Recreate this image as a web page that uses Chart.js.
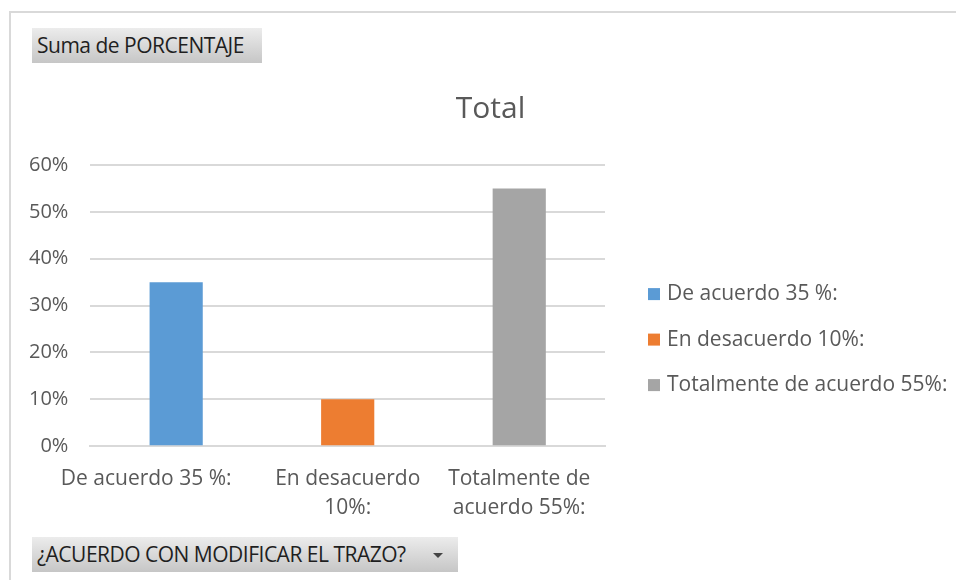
<!DOCTYPE html>
<html lang="es">
<head>
    <meta charset="UTF-8">
    <title>Total</title>
    <style>
        body, html {
            margin: 0;
            padding: 0;
            width: 956px;
            height: 580px;
            background: #ffffff;
            overflow: hidden;
            font-family: "Open Sans", sans-serif;
        }

        .frame {
            position: absolute;
            left: 9px;
            top: 11px;
            width: 960px;
            height: 600px;
            border-top: 2px solid #d9d9d9;
            border-left: 2px solid #d9d9d9;
        }

        .field-btn {
            position: absolute;
            left: 32px;
            height: 35px;
            line-height: 35px;
            padding-left: 5px;
            box-sizing: border-box;
            background: linear-gradient(#ececec, #c6c6c6);
            color: #1f1f1f;
            font-family: "Open Sans", sans-serif;
            font-size: 21px;
            letter-spacing: -0.5px;
            white-space: nowrap;
        }

        #top-btn { top: 28px; width: 230px; }
        #bottom-btn { top: 537px; width: 426px; }

        .arrow {
            position: absolute;
            left: 401px;
            top: 16px;
            width: 0;
            height: 0;
            border-left: 5px solid transparent;
            border-right: 5px solid transparent;
            border-top: 5px solid #444;
        }

        .chart-box {
            position: absolute;
            left: -9px;
            top: 70px;
            width: 965px;
            height: 463px;
        }
    </style>
</head>
<body>
    <div class="frame"></div>
    <div class="field-btn" id="top-btn">Suma de PORCENTAJE</div>
    <div class="field-btn" id="bottom-btn">¿ACUERDO CON MODIFICAR EL TRAZO?<span class="arrow"></span></div>

    <div class="chart-box">
        <canvas id="total-chart"></canvas>
    </div>

    <script src="https://cdn.jsdelivr.net/npm/chart.js"></script>
    <script>
        // data
        const categories = ['De acuerdo 35 %:', 'En desacuerdo 10%:', 'Totalmente de acuerdo 55%:'];
        const axisLabels = ['De acuerdo 35 %:', ['En desacuerdo', '10%:'], ['Totalmente de', 'acuerdo 55%:']];
        const percentages = [0.35, 0.10, 0.55];
        const barColors = ['#5b9bd5', '#ed7d31', '#a5a5a5'];
        const yTicks = [0, 0.1, 0.2, 0.3, 0.4, 0.5, 0.6];

        const textColor = '#595959';
        const fontFamily = '"Open Sans", sans-serif';

        // legend drawn to the right of the plot, like the Excel one
        const sideLegend = {
            id: 'sideLegend',
            afterLayout: function (chart) {
                // centre the title over the whole chart, not just the plot
                if (chart.titleBlock) {
                    chart.titleBlock.left = 34;
                    chart.titleBlock.right = chart.width;
                    chart.titleBlock.width = chart.width - 34;
                }
            },
            afterDraw: function (chart) {
                const c = chart.ctx;
                const area = chart.chartArea;
                const x = area.right + 43;
                const midY = (area.top + area.bottom) / 2 + 34;
                const step = 45.5;
                c.save();
                c.font = '21px ' + fontFamily;
                c.textBaseline = 'middle';
                c.textAlign = 'left';
                categories.forEach(function (name, i) {
                    const y = midY + (i - 1) * step;
                    c.fillStyle = barColors[i];
                    c.fillRect(x, y - 6, 12, 12);
                    c.fillStyle = textColor;
                    c.fillText(name, x + 19, y);
                });
                c.restore();
            }
        };

        const ctx = document.getElementById('total-chart').getContext('2d');
        new Chart(ctx, {
            type: 'bar',
            data: {
                labels: axisLabels,
                datasets: [{
                    label: 'Total',
                    data: percentages,
                    backgroundColor: barColors,
                    barPercentage: 0.31,
                    categoryPercentage: 1
                }]
            },
            options: {
                responsive: true,
                maintainAspectRatio: false,
                animation: false,
                layout: {
                    padding: { left: 16, right: 351, top: 0, bottom: 0 }
                },
                plugins: {
                    title: {
                        display: true,
                        text: 'Total',
                        color: textColor,
                        font: { family: fontFamily, size: 30, weight: 'normal' },
                        padding: { top: 21, bottom: 38 }
                    },
                    legend: { display: false },
                    tooltip: { enabled: false }
                },
                scales: {
                    x: {
                        grid: { display: false },
                        border: { display: true, color: '#d9d9d9', width: 2 },
                        ticks: {
                            color: textColor,
                            font: { family: fontFamily, size: 21, lineHeight: 1.4 },
                            padding: 10,
                            maxRotation: 0,
                            autoSkip: false,
                            callback: function (value, index) {
                                const label = this.getLabelForValue(value);
                                // Excel pushes the first (one-line) label left so it stays inside the plot
                                return index === 0 ? label + '           ' : label;
                            }
                        }
                    },
                    y: {
                        min: 0,
                        max: 0.6,
                        afterBuildTicks: function (axis) {
                            axis.ticks = yTicks.map(function (v) { return { value: v }; });
                        },
                        grid: { color: '#d9d9d9', lineWidth: 2, drawTicks: false },
                        border: { display: false },
                        ticks: {
                            color: textColor,
                            font: { family: fontFamily, size: 20 },
                            padding: 22,
                            callback: function (v) { return Math.round(v * 100) + '%'; }
                        }
                    }
                }
            },
            plugins: [sideLegend]
        });
    </script>
</body>
</html>
